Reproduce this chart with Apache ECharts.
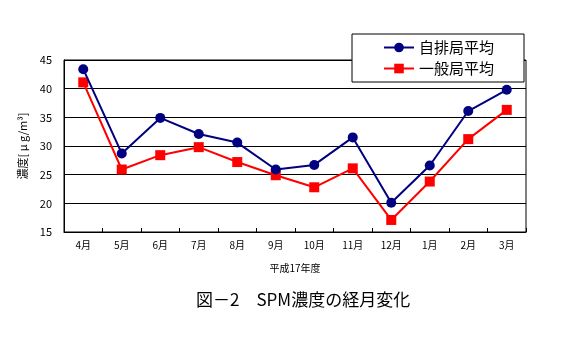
<!DOCTYPE html>
<html>
<head>
<meta charset="utf-8">
<script src="https://cdn.jsdelivr.net/npm/echarts@6/dist/echarts.min.js"></script>
<style>
  html, body { margin: 0; padding: 0; background: #fff; }
  #chart { width: 577px; height: 340px; }
</style>
</head>
<body>
<div id="chart"></div>
<script>
// 月別カテゴリ（平成17年度）
const months = ['4月', '5月', '6月', '7月', '8月', '9月', '10月', '11月', '12月', '1月', '2月', '3月'];
// 自排局平均 SPM濃度 [μg/m³]
const roadside = [43.4, 28.7, 34.9, 32.1, 30.6, 25.9, 26.7, 31.5, 20.1, 26.6, 36.1, 39.8];
// 一般局平均 SPM濃度 [μg/m³]
const general = [41.1, 25.9, 28.4, 29.8, 27.2, 24.9, 22.8, 26.1, 17.1, 23.8, 31.2, 36.3];
const yTicks = { min: 15, max: 45, step: 5 };

const font = '"Noto Sans CJK JP", "Noto Sans", sans-serif';
const chart = echarts.init(document.getElementById('chart'), null, { renderer: 'canvas' });

chart.setOption({
  backgroundColor: '#ffffff',
  animation: false,
  title: {
    text: '図－2　SPM濃度の経月変化',
    left: 191,
    top: 286,
    textStyle: { fontFamily: font, fontSize: 17, fontWeight: 'normal', color: '#000' }
  },
  legend: {
    orient: 'vertical',
    left: 352,
    top: 34,
    width: 170,
    padding: [6, 30, 6, 31],
    itemGap: 6,
    itemWidth: 30,
    itemHeight: 12,
    backgroundColor: '#fff',
    borderColor: '#000',
    borderWidth: 1,
    textStyle: { fontFamily: font, fontSize: 15, color: '#000' },
    data: ['自排局平均', '一般局平均']
  },
  grid: { left: 64, right: 51, top: 60, bottom: 108, show: true, borderColor: '#000', borderWidth: 1, z: 0 },
  xAxis: {
    type: 'category',
    data: months,
    boundaryGap: true,
    name: '平成17年度',
    nameLocation: 'middle',
    nameGap: 31,
    nameTextStyle: { fontFamily: font, fontSize: 10, color: '#000' },
    axisLine: { lineStyle: { color: '#000', width: 1 } },
    axisTick: { show: true, inside: true, length: 4, lineStyle: { color: '#000' } },
    axisLabel: { fontFamily: font, fontSize: 10, color: '#000', margin: 8 }
  },
  yAxis: {
    type: 'value',
    min: yTicks.min,
    max: yTicks.max,
    interval: yTicks.step,
    name: '濃度[ μ g/m³]',
    nameLocation: 'middle',
    nameGap: 36,
    nameRotate: 90,
    nameTextStyle: { fontFamily: font, fontSize: 11, color: '#000' },
    axisLine: { show: true, lineStyle: { color: '#000', width: 1 } },
    axisTick: { show: false },
    axisLabel: { fontFamily: font, fontSize: 11, color: '#000', margin: 12 },
    splitLine: { show: true, lineStyle: { color: '#000', width: 1 } }
  },
  series: [
    {
      name: '自排局平均',
      type: 'line',
      data: roadside,
      symbol: 'circle',
      symbolSize: 10,
      itemStyle: { color: '#000080' },
      lineStyle: { color: '#000080', width: 2 },
      z: 3
    },
    {
      name: '一般局平均',
      type: 'line',
      data: general,
      symbol: 'rect',
      symbolSize: 10,
      itemStyle: { color: '#ff0000' },
      lineStyle: { color: '#ff0000', width: 2 },
      z: 2
    }
  ]
});
</script>
</body>
</html>
